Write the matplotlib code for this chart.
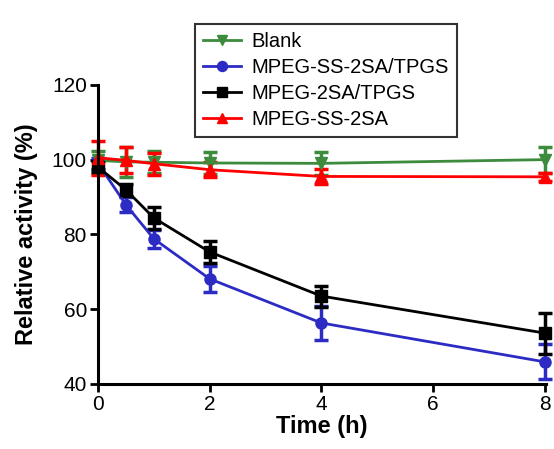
import matplotlib
matplotlib.use("Agg")
import matplotlib.pyplot as plt

plt.rcParams['font.family'] = ['Liberation Sans', 'DejaVu Sans']

# data
time_h = [0, 0.5, 1, 2, 4, 8]
labels = ['Blank', 'MPEG-SS-2SA/TPGS', 'MPEG-2SA/TPGS', 'MPEG-SS-2SA']

blank = [99.8, 99.4, 99.3, 99.1, 99.0, 100.0]
blank_err = [2.5, 4.0, 3.0, 3.0, 3.0, 3.5]

ss_tpgs = [99.0, 87.9, 78.8, 68.1, 56.3, 45.9]
ss_tpgs_err = [1.5, 2.0, 2.5, 3.5, 4.5, 4.7]

tpgs = [98.0, 91.9, 84.4, 75.3, 63.5, 53.6]
tpgs_err = [1.5, 1.5, 3.0, 3.0, 2.8, 5.5]

ss = [100.5, 99.8, 98.9, 97.3, 95.5, 95.4]
ss_err = [4.5, 3.5, 3.0, 2.0, 2.0, 1.0]

colors = ['#3d8b3d', '#2c2cc4', '#000000', '#ff0000']
markers = ['v', 'o', 's', '^']
series = [blank, ss_tpgs, tpgs, ss]
errors = [blank_err, ss_tpgs_err, tpgs_err, ss_err]

fig = plt.figure(figsize=(5.54, 4.49), dpi=100)
ax = fig.add_axes([0.177, 0.145, 0.808, 0.666])

handles = []
for vals, err, c, m, lab in zip(series, errors, colors, markers, labels):
    cont = ax.errorbar(time_h, vals, yerr=err, color=c, marker=m, markersize=8,
                       linewidth=2, elinewidth=2.5, capsize=5, capthick=2.5,
                       label=lab, clip_on=False)
    handles.append(cont[0])  # line only, no error bars in the legend

ax.set_xlim(0, 8.02)
ax.set_ylim(40, 120)
ax.set_xticks([0, 2, 4, 6, 8])
ax.set_yticks([40, 60, 80, 100, 120])

for side in ['top', 'right']:
    ax.spines[side].set_visible(False)
for side in ['left', 'bottom']:
    ax.spines[side].set_linewidth(2.2)
ax.tick_params(direction='out', length=6, width=2, labelsize=15, pad=2)

ax.set_xlabel('Time (h)', fontsize=17, fontweight='bold', labelpad=1)
ax.set_ylabel('Relative activity (%)', fontsize=17, fontweight='bold', labelpad=10)

leg = fig.legend(handles, labels, loc='upper left',
                 bbox_to_anchor=(185 / 554, 1 - 14 / 449),
                 fontsize=14.5, frameon=True, fancybox=False, edgecolor='black',
                 handlelength=1.9, handletextpad=0.5, borderpad=0.4,
                 labelspacing=0.35, markerscale=0.9)
leg.get_frame().set_linewidth(1.5)

fig.savefig('out.png', dpi=100)
